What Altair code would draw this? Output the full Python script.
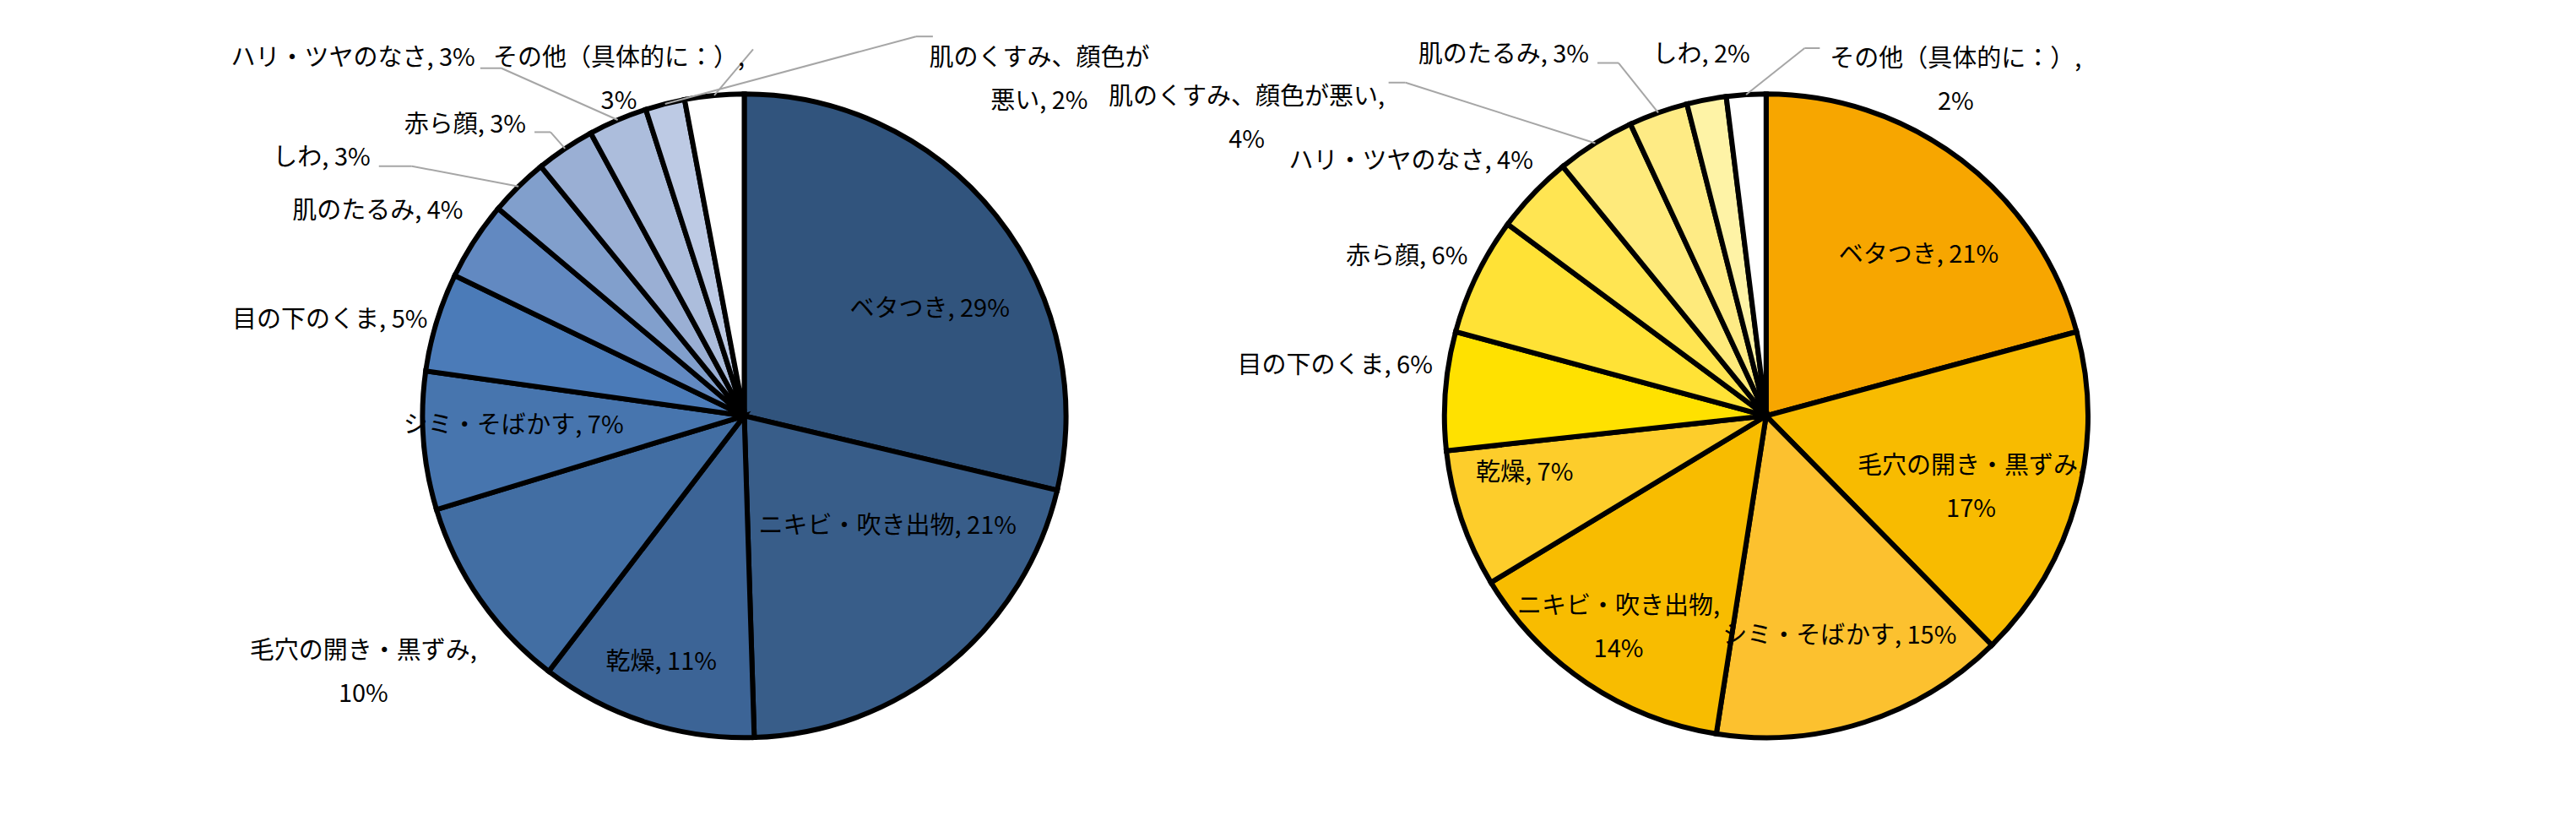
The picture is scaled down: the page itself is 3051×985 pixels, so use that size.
import math
import altair as alt
import pandas as pd

# ---------------- data ----------------
left_categories = ["ベタつき", "ニキビ・吹き出物", "乾燥", "毛穴の開き・黒ずみ", "シミ・そばかす",
                   "目の下のくま", "肌のたるみ", "しわ", "赤ら顔", "ハリ・ツヤのなさ",
                   "肌のくすみ、顔色が悪い", "その他（具体的に：）"]
left_values = [29, 21, 11, 10, 7, 5, 4, 3, 3, 3, 2, 3]

right_categories = ["ベタつき", "毛穴の開き・黒ずみ", "シミ・そばかす", "ニキビ・吹き出物", "乾燥",
                    "目の下のくま", "赤ら顔", "ハリ・ツヤのなさ", "肌のくすみ、顔色が悪い",
                    "肌のたるみ", "しわ", "その他（具体的に：）"]
right_values = [21, 17, 15, 14, 7, 6, 6, 4, 4, 3, 2, 2]

# ---------------- style ----------------
left_colors = ["#31547D", "#385D89", "#3C6496", "#426EA3", "#4775AE", "#4B7BB8",
               "#6289C1", "#819FCC", "#9AAFD4", "#ACBDDC", "#BDCAE4", "#FFFFFF"]
right_colors = ["#F7A600", "#F8BB00", "#FCC12F", "#F8BC00", "#FDCD2B", "#FFE100",
                "#FFE236", "#FFE552", "#FEEA7B", "#FEEB85", "#FEF3A6", "#FFFFFF"]

W, H = 3035, 969
R = 381
CENTERS = {"left": (873.5, 484.3), "right": (2083.8, 484.3)}
FONT = "Noto Sans CJK JP"
FS = 29
LH = 51

# label layout: (radius factor, dx, dy, align)
layout = {
    "left": {
        "ベタつき": (0.658, 23, 29, "center"),
        "ニキビ・吹き出物": (0.547, 38, -31, "center"),
        "乾燥": (0.808, -4, -1, "center"),
        "毛穴の開き・黒ずみ": (1.39, -16, -23, "center"),
        "シミ・そばかす": (0.717, -1, -10, "center"),
        "目の下のくま": (1.029, 0, 1, "right"),
        "肌のたるみ": (1.076, 11, -19, "right"),
        "しわ": (1.387, -72, 71, "right"),
        "赤ら顔": (1.128, -19, 13, "right"),
        "ハリ・ツヤのなさ": (1.352, -116, 50, "right"),
        "肌のくすみ、顔色が悪い": (1.2, 462, 20, "center"),
        "その他（具体的に：）": (1.141, -108, 10, "center"),
    },
    "right": {
        "ベタつき": (0.685, 22, 17, "center"),
        "毛穴の開き・黒ずみ": (0.671, -4, -7, "center"),
        "シミ・そばかす": (0.721, 3, -1, "center"),
        "ニキビ・吹き出物": (0.748, -16, -11, "center"),
        "乾燥": (0.768, -9, -26, "center"),
        "目の下のくま": (1.045, 2, -28, "right"),
        "赤ら顔": (1.051, 7, -14, "right"),
        "ハリ・ツヤのなさ": (1.07, 19, -20, "right"),
        "肌のくすみ、顔色が悪い": (1.696, -272, 170, "center"),
        "肌のたるみ": (1.242, -51, 18, "right"),
        "しわ": (1.141, 4, 0, "center"),
        "その他（具体的に：）": (1.2, 253, 34, "center"),
    },
}
# label wrapping: "comma" -> break after comma, int -> break category after n chars
wraps = {
    "left": {"毛穴の開き・黒ずみ": "comma", "肌のくすみ、顔色が悪い": 9, "その他（具体的に：）": "comma"},
    "right": {"毛穴の開き・黒ずみ": "comma", "ニキビ・吹き出物": "comma",
              "肌のくすみ、顔色が悪い": "comma", "その他（具体的に：）": "comma"},
}
# leader lines: start offset from label anchor (sx, sy), horizontal elbow length ex
leaders = {
    "left": {"しわ": (10, 10, 39), "赤ら顔": (10, 8, 19), "ハリ・ツヤのなさ": (6, 12, 25),
             "肌のくすみ、顔色が悪い": (-126, -26, -20), "その他（具体的に：）": (159, -11, 0)},
    "right": {"肌のくすみ、顔色が悪い": (168, -17, 20), "肌のたるみ": (10, 10, 25),
              "その他（具体的に：）": (-161, -13, -18)},
}

pies = {"left": (left_categories, left_values, left_colors),
        "right": (right_categories, right_values, right_colors)}

slice_rows, label_rows, line_rows = [], [], []
keys, colors = [], []
for pie, (cats, vals, cols) in pies.items():
    cx, cy = CENTERS[pie]
    total = sum(vals)
    cum = 0.0
    for i, (c, v, col) in enumerate(zip(cats, vals, cols)):
        key = f"{pie}|{c}"
        keys.append(key)
        colors.append(col)
        slice_rows.append({"pie": pie, "key": key, "cat": c, "value": v, "idx": i})
        mid = (cum + v / 2) / total * 2 * math.pi
        cum += v
        rho, dx, dy, align = layout[pie][c]
        lx = cx + R * rho * math.sin(mid) + dx
        ly = cy - R * rho * math.cos(mid) + dy
        w = wraps[pie].get(c)
        if w == "comma":
            txt = f"{c},\n{v}%"
        elif isinstance(w, int):
            txt = f"{c[:w]}\n{c[w:]}, {v}%"
        else:
            txt = f"{c}, {v}%"
        label_rows.append({"x": lx, "y": ly, "text": txt, "align": align})
        if c in leaders[pie]:
            sx, sy, ex = leaders[pie][c]
            x0, y0 = lx + sx, ly + sy
            x1, y1 = x0 + ex, y0
            x2 = cx + R * math.sin(mid)
            y2 = cy - R * math.cos(mid)
            if ex != 0:
                line_rows.append({"x": x0, "y": y0, "x2": x1, "y2": y1})
            line_rows.append({"x": x1, "y": y1, "x2": x2, "y2": y2})

slices = pd.DataFrame(slice_rows)
labels = pd.DataFrame(label_rows)
lines = pd.DataFrame(line_rows)

color_scale = alt.Scale(domain=keys, range=colors)

arcs = []
for pie in ["left", "right"]:
    cx, cy = CENTERS[pie]
    arcs.append(
        alt.Chart(slices).transform_filter(alt.datum.pie == pie)
        .mark_arc(radius=R, stroke="black", strokeWidth=6)
        .encode(
            theta=alt.Theta("value:Q", stack=True),
            order=alt.Order("idx:Q"),
            color=alt.Color("key:N", scale=color_scale, legend=None),
            x=alt.value(cx), y=alt.value(cy),
        )
    )

rules = alt.Chart(lines).mark_rule(color="#A6A6A6", strokeWidth=2).encode(
    x=alt.X("x:Q", scale=None, axis=None), y=alt.Y("y:Q", scale=None, axis=None),
    x2="x2:Q", y2="y2:Q")

texts = []
for al in ["center", "right"]:
    texts.append(
        alt.Chart(labels).transform_filter(alt.datum.align == al)
        .mark_text(align=al, baseline="middle", font=FONT, fontSize=FS, color="black",
                   lineBreak="\n", lineHeight=LH)
        .encode(x=alt.X("x:Q", scale=None, axis=None), y=alt.Y("y:Q", scale=None, axis=None),
                text="text:N")
    )

chart = alt.layer(*arcs, rules, *texts).resolve_scale(theta="independent").properties(
    width=W, height=H, autosize=alt.AutoSizeParams(type="none"), padding=0,
    background="white",
).configure_view(stroke=None)

chart.save("out.html", embed_options={"renderer": "svg", "actions": False})
